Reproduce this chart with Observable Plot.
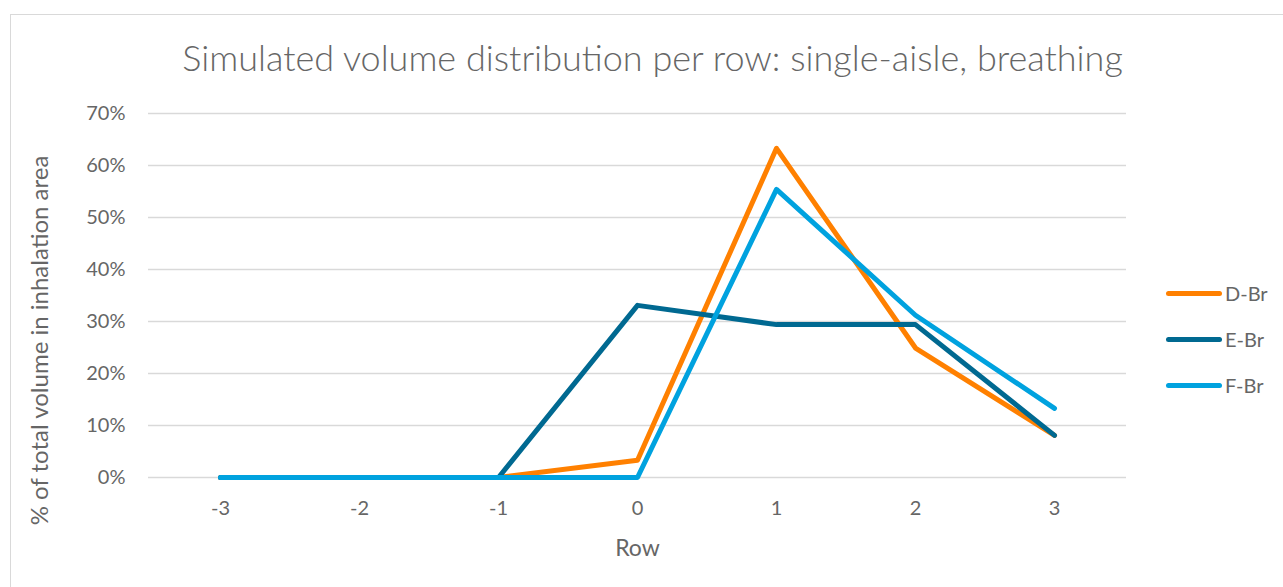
<!DOCTYPE html>
<html>
<head>
<meta charset="utf-8">
<script src="https://cdn.jsdelivr.net/npm/d3@7"></script>
<script src="https://cdn.jsdelivr.net/npm/@observablehq/plot@0.6"></script>
<style>
  html, body { margin: 0; padding: 0; background: #fff; }
  #wrap { position: relative; width: 1283px; height: 587px; overflow: hidden; font-family: Lato, "Open Sans", sans-serif; color: #666; }
  #frame { position: absolute; left: 10px; top: 14px; width: 1290px; height: 600px; border-top: 1.5px solid #d9d9d9; border-left: 1.5px solid #d9d9d9; box-sizing: border-box; }
  #title { position: absolute; left: 0; width: 1305px; top: 35px; text-align: center; font-size: 36px; color: #666; white-space: nowrap; font-weight: 300; }
  #chart { position: absolute; left: 0; top: 0; }
  .leg { position: absolute; left: 1166px; font-size: 20px; color: #666; display: flex; align-items: center; }
  .leg span.sw { display: inline-block; width: 56px; height: 5px; border-radius: 3px; margin-right: 3px; }
</style>
</head>
<body>
<div id="wrap">
  <div id="frame"></div>
  <div id="chart"></div>
  <div id="title">Simulated volume distribution per row: single-aisle, breathing</div>
  <div id="legend"></div>
</div>
<script>
const rows = [-3, -2, -1, 0, 1, 2, 3];
const seriesNames = ["D-Br", "E-Br", "F-Br"];
const seriesColors = ["#ff8000", "#006991", "#00a2df"];
const dBr = [0, 0, 0, 0.033, 0.633, 0.249, 0.081];
const eBr = [0, 0, 0, 0.331, 0.294, 0.294, 0.081];
const fBr = [0, 0, 0, 0, 0.554, 0.312, 0.133];
const yTicks = [0, 0.1, 0.2, 0.3, 0.4, 0.5, 0.6, 0.7];

const seriesValues = [dBr, eBr, fBr];
const data = [];
seriesNames.forEach((name, i) => {
  rows.forEach((r, j) => data.push({series: name, row: r, value: seriesValues[i][j]}));
});

const chart = Plot.plot({
  width: 1283,
  height: 587,
  marginLeft: 148,
  marginRight: 157,
  marginTop: 113,
  marginBottom: 110,
  style: { fontFamily: "Lato, 'Open Sans', sans-serif", fontSize: "20px", color: "#666", background: "transparent" },
  x: { type: "point", domain: rows, padding: 0.5, label: null },
  y: { domain: [0, 0.7], label: null },
  color: { domain: seriesNames, range: seriesColors },
  marks: [
    Plot.ruleY(yTicks, { stroke: "#d9d9d9", strokeWidth: 1.5 }),
    Plot.axisY({ ticks: yTicks, tickFormat: d => Math.round(d * 100) + "%", tickSize: 0, tickPadding: 23, fill: "#666", fontSize: 20, label: null }),
    Plot.axisX({ ticks: rows, tickSize: 0, tickPadding: 23, fill: "#666", fontSize: 20, label: null }),
    Plot.line(data, { x: "row", y: "value", z: "series", stroke: "series", strokeWidth: 5, strokeLinecap: "round", strokeLinejoin: "round" }),
    Plot.text(["% of total volume in inhalation area"], { frameAnchor: "left", textAnchor: "middle", dx: -108, dy: 45, rotate: -90, fill: "#666", fontSize: 24, text: d => d }),
    Plot.text(["Row"], { frameAnchor: "bottom", dy: 78, fill: "#666", fontSize: 23, text: d => d })
  ]
});
document.getElementById("chart").appendChild(chart);

const legend = document.getElementById("legend");
const legTops = [294, 340, 386];
seriesNames.forEach((name, i) => {
  const div = document.createElement("div");
  div.className = "leg";
  div.style.top = (legTops[i] - 13) + "px";
  div.innerHTML = `<span class="sw" style="background:${seriesColors[i]}"></span>${name}`;
  legend.appendChild(div);
});
</script>
</body>
</html>
